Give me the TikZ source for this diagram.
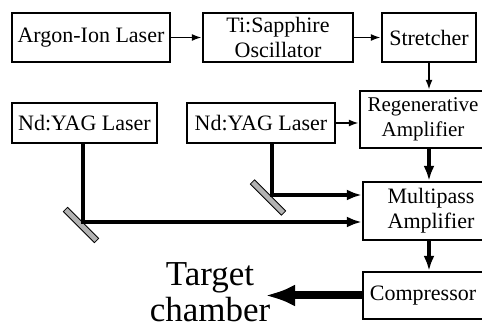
\documentclass[tikz,border=0pt]{standalone}
\usepackage{fontspec}
\setmainfont{Liberation Serif}
\usepackage{tikz}
\usetikzlibrary{
arrows,
arrows.meta,
positioning,
calc
}

\begin{document}
\begin{tikzpicture}[x=1pt,y=-1pt,
      box/.style={draw,line width=2.4pt,align=center,inner sep=0pt,font=\fontsize{22}{25}\selectfont},
      beam/.style={line width=4pt,-{Latex[length=15pt,width=11pt]}},
      thin/.style={line width=1.8pt,-{Latex[length=10pt,width=7pt]}},
      mirror/.style={draw=black,fill=gray!60,line width=0.8pt,minimum width=44pt,minimum height=6pt,inner sep=0pt,rotate=-45}]
      \useasboundingbox (0,0) rectangle (482,328);
      \node[box,minimum width=158pt,minimum height=49pt] (argon) at (91,37.5) {Argon-Ion Laser};
      \node[box,minimum width=150pt,minimum height=49pt] (tisa) at (278,37.5) {Ti:Sapphire\\Oscillator};
      \node[box,minimum width=94pt,minimum height=49pt] (str) at (429,37.5) {Stretcher};
      \node[box,minimum width=126pt,minimum height=57pt,font=\fontsize{21}{25}\selectfont] (regen) at (423,119.5) {Regenerative\\Amplifier};
      \node[box,minimum width=145pt,minimum height=40pt] (yagA) at (84.5,123) {Nd:YAG Laser};
      \node[box,minimum width=148pt,minimum height=40pt] (yagB) at (261,123) {Nd:YAG Laser};
      \node[box,minimum width=136pt,minimum height=58pt] (multi) at (431,211) {Multipass\\Amplifier};
      \node[box,minimum width=120pt,minimum height=47pt] (comp) at (423,295.5) {Compressor};
      \node[align=center,inner sep=0pt,font=\fontsize{35}{36}\selectfont] (target) at (210,292) {Target\\chamber};
      \coordinate (cA) at (83,222);
      \coordinate (cB) at (272,195);
      \coordinate (tip) at (265,295.5);
      \node[mirror] (mirA) at ($(cA)+(-2,3)$) {};
      \node[mirror] (mirB) at ($(cB)+(-4,2.5)$) {};
         \draw[thin] (argon.east) -- (tisa.west);
         \draw[thin] (tisa.east) -- (str.west);
         \draw[thin] (str.south) -- (str.south |- regen.north);
         \draw[thin] (yagB.east) -- (yagB.east -| regen.west);
         \draw[beam] (str.south |- regen.south) -- (str.south |- multi.north);
         \draw[beam] (str.south |- multi.south) -- (str.south |- comp.north);
         \draw[beam] (cB |- yagB.south) -- (cB) -- (cB -| multi.west);
         \draw[beam] (cA |- yagA.south) -- (cA) -- (cA -| multi.west);
         \draw[line width=8pt,-{Latex[length=30pt,width=22pt]}] (comp.west) -- (tip);
\end{tikzpicture}
\end{document}
